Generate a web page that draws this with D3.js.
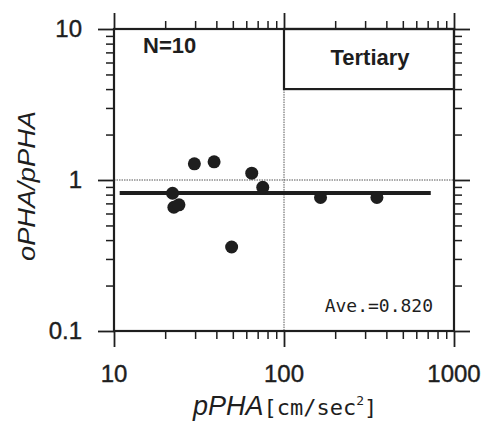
<!DOCTYPE html>
<html>
<head>
<meta charset="utf-8">
<script src="https://cdn.jsdelivr.net/npm/d3@7"></script>
<style>
  body { margin: 0; background: #fff; }
  text { fill: #1e1e1e; }
</style>
</head>
<body>
<div id="chart"></div>
<script>
// data
const pPHA = [29.7, 38.8, 64.6, 75, 22.1, 22.5, 24.1, 49.2, 164, 352]
const ratio = [1.28, 1.32, 1.11, 0.895, 0.817, 0.66, 0.685, 0.36, 0.766, 0.766]
const average = 0.82
const aveRange = [10.8, 730]
const xTicks = [10, 100, 1000]
const yTicks = [0.1, 1, 10]
const xTickLabels = ['10', '100', '1000']
const yTickLabels = ['0.1', '1', '10']

const w = 487
const h = 426
const m = {left: 114, right: 33, top: 29, bottom: 95}

const svg = d3.select('#chart')
    .append('svg')
    .attr('width', w)
    .attr('height', h)

const xScale = d3.scaleLog()
    .domain([10, 1000])
    .range([m.left, w - m.right])

const yScale = d3.scaleLog()
    .domain([0.1, 10])
    .range([h - m.bottom, m.top])

const x0 = xScale.range()[0], x1 = xScale.range()[1]
const y0 = yScale.range()[0], y1 = yScale.range()[1]

// minor ticks 2..9 in each decade
const minorX = xScale.ticks().filter(d => !xTicks.includes(d))
const minorY = yScale.ticks().filter(d => !yTicks.includes(d))

const ink = '#1e1e1e'

// dotted reference lines at x=100 and y=1
svg.append('line')
    .attr('x1', x0).attr('x2', x1)
    .attr('y1', yScale(1)).attr('y2', yScale(1))
    .attr('stroke', '#555').attr('stroke-width', 1)
    .attr('stroke-dasharray', '1.5,1')

svg.append('line')
    .attr('x1', xScale(100)).attr('x2', xScale(100))
    .attr('y1', yScale(4)).attr('y2', y0)
    .attr('stroke', '#555').attr('stroke-width', 1)
    .attr('stroke-dasharray', '1.5,1')

// axes, ticks outward, on all four sides
const axes = [
    {axis: d3.axisBottom(xScale), t: `translate(0,${y0})`, minor: minorX, major: xTicks},
    {axis: d3.axisTop(xScale), t: `translate(0,${y1})`, minor: minorX, major: xTicks},
    {axis: d3.axisLeft(yScale), t: `translate(${x0},0)`, minor: minorY, major: yTicks},
    {axis: d3.axisRight(yScale), t: `translate(${x1},0)`, minor: minorY, major: yTicks}
]

axes.forEach(a => {
    svg.append('g')
        .attr('transform', a.t)
        .call(a.axis.tickValues(a.minor).tickSize(8).tickFormat(''))
        .call(g => g.select('.domain').remove())
        .selectAll('line').attr('stroke', ink).attr('stroke-width', 1.5)
    svg.append('g')
        .attr('transform', a.t)
        .call(a.axis.tickValues(a.major).tickSize(16).tickFormat(''))
        .call(g => g.select('.domain').remove())
        .selectAll('line').attr('stroke', ink).attr('stroke-width', 1.8)
})

// frame
svg.append('rect')
    .attr('x', x0).attr('y', y1)
    .attr('width', x1 - x0).attr('height', y0 - y1)
    .attr('fill', 'none').attr('stroke', ink).attr('stroke-width', 2.2)

// Tertiary box
svg.append('rect')
    .attr('x', xScale(100)).attr('y', y1)
    .attr('width', x1 - xScale(100)).attr('height', yScale(4) - y1)
    .attr('fill', 'none').attr('stroke', ink).attr('stroke-width', 2.2)

const sans = '"Liberation Sans", Arial, sans-serif'
const mono = '"DejaVu Sans Mono", monospace'

svg.append('text')
    .attr('x', (xScale(100) + x1) / 2 + 1).attr('y', 65)
    .attr('text-anchor', 'middle')
    .style('font', 'bold 22px ' + sans)
    .text('Tertiary')

svg.append('text')
    .attr('x', 143).attr('y', 53)
    .style('font', 'bold 22px ' + sans)
    .text('N=10')

// tick labels
svg.selectAll('.xlab')
    .data(xTicks)
    .enter()
    .append('text')
    .attr('x', d => xScale(d))
    .attr('y', 382)
    .attr('text-anchor', 'middle')
    .attr('stroke', ink).attr('stroke-width', 0.4)
    .style('font', '24px ' + sans)
    .text((d, i) => xTickLabels[i])

svg.selectAll('.ylab')
    .data(yTicks)
    .enter()
    .append('text')
    .attr('x', 82)
    .attr('y', d => yScale(d) + 8)
    .attr('text-anchor', 'end')
    .attr('stroke', ink).attr('stroke-width', 0.4)
    .style('font', '24px ' + sans)
    .text((d, i) => yTickLabels[i])

// average line
svg.append('line')
    .attr('x1', xScale(aveRange[0])).attr('x2', xScale(aveRange[1]))
    .attr('y1', yScale(average)).attr('y2', yScale(average))
    .attr('stroke', ink).attr('stroke-width', 4)

// points
svg.selectAll('circle')
    .data(pPHA)
    .enter()
    .append('circle')
    .attr('cx', d => xScale(d))
    .attr('cy', (d, i) => yScale(ratio[i]))
    .attr('r', 6.5)
    .attr('fill', ink)

svg.append('text')
    .attr('x', 433).attr('y', 312)
    .attr('text-anchor', 'end')
    .style('font', '18px ' + mono)
    .text('Ave.=' + average.toFixed(3))

// axis titles
const xt = svg.append('text')
    .attr('x', 193).attr('y', 415)
xt.append('tspan')
    .style('font', 'italic 27px ' + sans)
    .text('pPHA')
xt.append('tspan')
    .style('font', '22px ' + mono)
    .text('[cm/sec')
xt.append('tspan')
    .attr('dy', -10)
    .style('font', '13px ' + mono)
    .text('2')
xt.append('tspan')
    .attr('dy', 10)
    .style('font', '22px ' + mono)
    .text(']')

svg.append('text')
    .attr('transform', `translate(35,186) rotate(-90)`)
    .attr('text-anchor', 'middle')
    .attr('textLength', 150)
    .attr('lengthAdjust', 'spacingAndGlyphs')
    .style('font', 'italic 24px ' + sans)
    .text('oPHA/pPHA')
</script>
</body>
</html>
